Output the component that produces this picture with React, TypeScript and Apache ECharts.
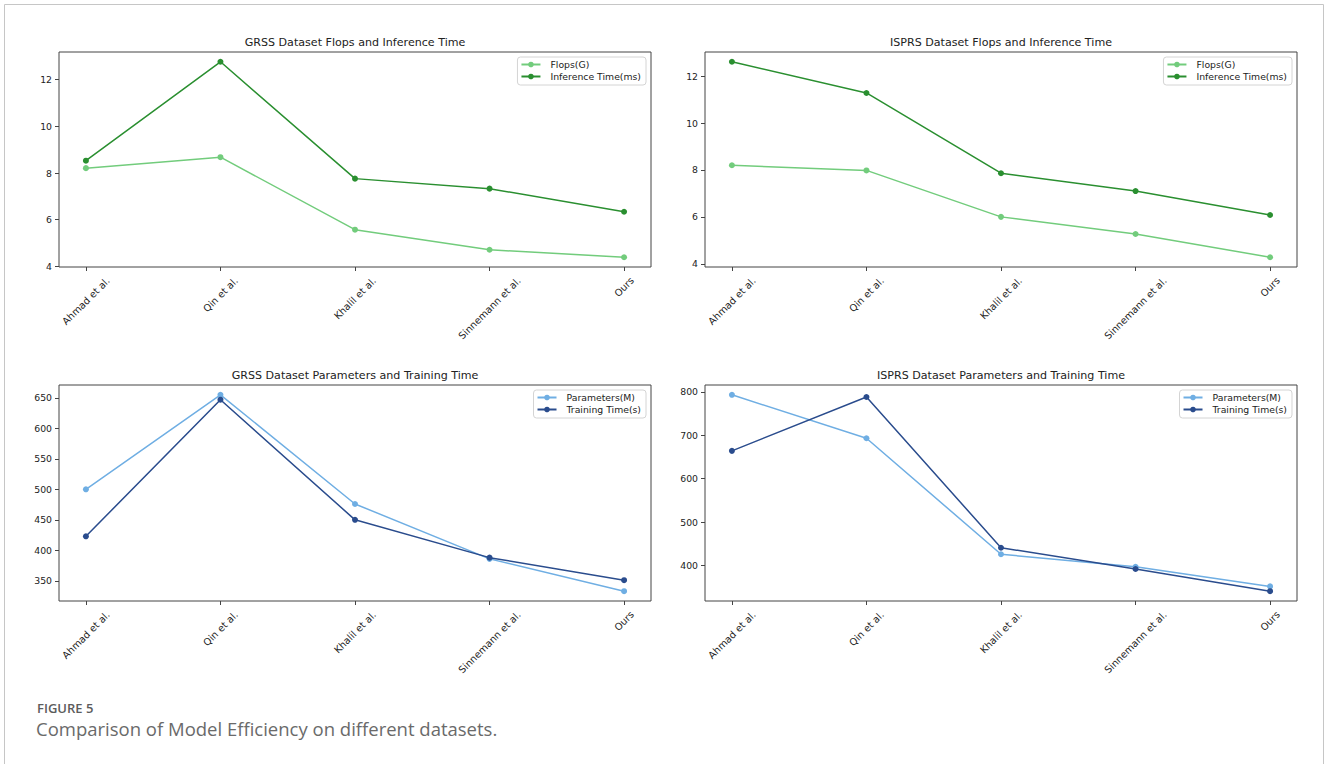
import React, { useEffect, useRef } from 'react';
import * as echarts from 'echarts';

// ---------------- data ----------------
const categories = ['Ahmad et al.', 'Qin et al.', 'Khalil et al.', 'Sinnemann et al.', 'Ours'];

const grssFlops = [8.21, 8.68, 5.57, 4.71, 4.39];
const grssInference = [8.53, 12.77, 7.76, 7.33, 6.34];
const isprsFlops = [8.2, 7.98, 6.0, 5.27, 4.28];
const isprsInference = [12.61, 11.28, 7.86, 7.1, 6.08];

const grssParams = [500, 655, 476, 386, 333];
const grssTraining = [423, 647, 450, 388, 351];
const isprsParams = [793, 693, 426, 397, 352];
const isprsTraining = [664, 788, 441, 392, 341];

const topTicks = [4, 6, 8, 10, 12];
const grssBottomTicks = [350, 400, 450, 500, 550, 600, 650];
const isprsBottomTicks = [400, 500, 600, 700, 800];

const panelTitles = [
  'GRSS Dataset Flops and Inference Time',
  'ISPRS Dataset Flops and Inference Time',
  'GRSS Dataset Parameters and Training Time',
  'ISPRS Dataset Parameters and Training Time',
];

const seriesNamesTop = ['Flops(G)', 'Inference Time(ms)'];
const seriesNamesBottom = ['Parameters(M)', 'Training Time(s)'];

const captionLabel = 'FIGURE 5';
const captionText = 'Comparison of Model Efficiency on different datasets.';

// ---------------- styles ----------------
const FONT = "'DejaVu Sans', sans-serif";
const TICK_SIZE = 9.3;
const XTICK_SIZE = 9.8;
const GREEN_LIGHT = '#72cc7c';
const GREEN_DARK = '#2a8f30';
const BLUE_LIGHT = '#6faee3';
const BLUE_DARK = '#2a4c8d';
const SPINE = '#444444';
const TEXT = '#222222';

const panels = [
  { left: 59, top: 52, width: 592, height: 215 },
  { left: 705, top: 52, width: 592, height: 215 },
  { left: 59, top: 385, width: 592, height: 216 },
  { left: 705, top: 385, width: 592, height: 216 },
];

function paddedRange(arrs: number[][]) {
  const all = arrs.flat();
  const mn = Math.min(...all);
  const mx = Math.max(...all);
  const m = (mx - mn) * 0.05;
  return [mn - m, mx + m];
}

export default function App() {
  const ref = useRef<HTMLDivElement>(null);

  useEffect(() => {
    if (!ref.current) return;
    const chart = echarts.init(ref.current, null, { renderer: 'svg' });

    const canvas = document.createElement('canvas');
    const ctx = canvas.getContext('2d')!;
    ctx.font = `${XTICK_SIZE}px 'DejaVu Sans'`;
    const rich: Record<string, any> = {};
    categories.forEach((c, i) => {
      const L = ctx.measureText(c).width;
      const p = 0.5 * (L + TICK_SIZE);
      rich['x' + i] = {
        padding: [p, p, 0, 0],
        fontSize: XTICK_SIZE,
        fontFamily: FONT,
        color: TEXT,
      };
    });

    const panelSeries = [
      { data: [grssFlops, grssInference], names: seriesNamesTop, colors: [GREEN_LIGHT, GREEN_DARK], ticks: topTicks },
      { data: [isprsFlops, isprsInference], names: seriesNamesTop, colors: [GREEN_LIGHT, GREEN_DARK], ticks: topTicks },
      { data: [grssParams, grssTraining], names: seriesNamesBottom, colors: [BLUE_LIGHT, BLUE_DARK], ticks: grssBottomTicks },
      { data: [isprsParams, isprsTraining], names: seriesNamesBottom, colors: [BLUE_LIGHT, BLUE_DARK], ticks: isprsBottomTicks },
    ];

    const catIdx = categories.map((_, i) => i);

    const grid = panels.map((p) => ({
      left: p.left,
      top: p.top,
      width: p.width,
      height: p.height,
      show: true,
      borderColor: SPINE,
      borderWidth: 1,
      backgroundColor: 'transparent',
      outerBoundsMode: 'none',
      containLabel: false,
    }));

    const xAxis = panels.map((_, i) => ({
      type: 'value',
      gridIndex: i,
      position: 'bottom',
      min: -0.2,
      max: categories.length - 1 + 0.2,
      axisLine: { show: false, onZero: false },
      splitLine: { show: false },
      axisTick: { show: true, customValues: catIdx, length: 4, lineStyle: { color: SPINE } },
      axisLabel: {
        show: true,
        customValues: catIdx,
        rotate: 45,
        align: 'center',
        verticalAlign: 'middle',
        margin: 8.5,
        fontSize: XTICK_SIZE,
        fontFamily: FONT,
        color: TEXT,
        formatter: (v: number) => {
          const k = Math.round(v);
          return `{x${k}|${categories[k]}}`;
        },
        rich,
      },
    }));

    const yAxis = panelSeries.map((ps, i) => {
      const [mn, mx] = paddedRange(ps.data);
      return {
        type: 'value',
        gridIndex: i,
        position: 'left',
        min: mn,
        max: mx,
        axisLine: { show: false, onZero: false },
        splitLine: { show: false },
        axisTick: { show: true, customValues: ps.ticks, length: 4, lineStyle: { color: SPINE } },
        axisLabel: {
          show: true,
          customValues: ps.ticks,
          margin: 7,
          fontSize: TICK_SIZE,
          fontFamily: FONT,
          color: TEXT,
        },
      };
    });

    const series: any[] = [];
    panelSeries.forEach((ps, i) => {
      ps.data.forEach((vals, j) => {
        series.push({
          type: 'line',
          name: ps.names[j],
          xAxisIndex: i,
          yAxisIndex: i,
          data: vals.map((v, k) => [k, v]),
          symbol: 'circle',
          symbolSize: 6,
          showSymbol: true,
          lineStyle: { width: 1.5, color: ps.colors[j] },
          itemStyle: { color: ps.colors[j] },
          z: 2 + j,
        });
      });
    });

    const legend = panels.map((p, i) => ({
      data: i < 2 ? seriesNamesTop : seriesNamesBottom,
      orient: 'vertical',
      right: 1328 - (p.left + p.width) + 5,
      top: p.top + 5,
      itemWidth: 19,
      itemHeight: 7,
      itemGap: 3,
      padding: [3, 5, 4, 3],
      backgroundColor: '#ffffff',
      borderColor: '#d4d4d4',
      borderWidth: 1,
      borderRadius: 3,
      textStyle: { fontSize: TICK_SIZE, fontFamily: FONT, color: TEXT, padding: [0, 0, 0, 5] },
      selectedMode: false,
    }));

    const graphic: any[] = [
      {
        type: 'rect',
        shape: { x: 4.5, y: 4.5, width: 1319, height: 820 },
        style: { fill: 'none', stroke: '#c6c6c6', lineWidth: 1 },
        silent: true,
      },
      ...panels.map((p, i) => ({
        type: 'text',
        x: p.left + p.width / 2,
        y: p.top - 10,
        style: {
          text: panelTitles[i],
          align: 'center',
          verticalAlign: 'middle',
          fontSize: 11.1,
          fontFamily: FONT,
          fill: TEXT,
        },
      })),
      {
        type: 'text',
        x: 37,
        y: 708,
        style: {
          text: captionLabel,
          align: 'left',
          verticalAlign: 'middle',
          fontSize: 13,
          fontWeight: 600,
          fontFamily: "'Open Sans', sans-serif",
          fill: '#5c5c5c',
        },
      },
      {
        type: 'text',
        x: 36,
        y: 728,
        style: {
          text: captionText,
          align: 'left',
          verticalAlign: 'middle',
          fontSize: 18.5,
          fontFamily: "'Open Sans', sans-serif",
          fill: '#6a6a6a',
        },
      },
    ];

    chart.setOption({
      animation: false,
      backgroundColor: '#ffffff',
      grid,
      xAxis,
      yAxis,
      series,
      legend,
      graphic,
    } as any);

    return () => chart.dispose();
  }, []);

  return (
    <div
      style={{ position: 'absolute', left: 0, top: 0, width: 1328, height: 764, background: '#fff' }}
    >
      <div ref={ref} style={{ width: 1328, height: 764 }} />
    </div>
  );
}
